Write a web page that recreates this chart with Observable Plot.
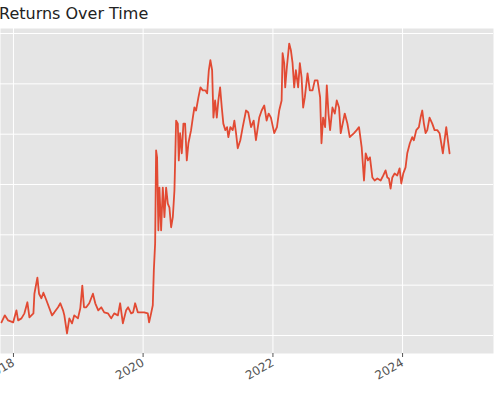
<!DOCTYPE html>
<html>
<head>
<meta charset="utf-8">
<script src="https://cdn.jsdelivr.net/npm/d3@7"></script>
<script src="https://cdn.jsdelivr.net/npm/@observablehq/plot@0.6"></script>
<style>
  html, body { margin: 0; padding: 0; background: white; }
  #wrap { width: 500px; height: 399px; position: relative; overflow: hidden; }
  #title { position: absolute; left: -1px; top: 3px; font-family: "DejaVu Sans", sans-serif; font-size: 16px; color: #222; white-space: nowrap; line-height: 22px; }
  #chart { position: absolute; left: 0; top: 28px; }
</style>
</head>
<body>
<div id="wrap">
  <div id="title">Returns Over Time</div>
  <div id="chart"></div>
</div>
<script>
// decimal years of the traced points
const years = [
  2017.815, 2017.866, 2017.918, 2017.995, 2018.046, 2018.072, 2018.123, 2018.169, 2018.215, 2018.246,
  2018.308, 2018.323, 2018.369, 2018.395, 2018.431, 2018.462, 2018.508, 2018.554, 2018.595, 2018.631,
  2018.688, 2018.723, 2018.765, 2018.785, 2018.826, 2018.862, 2018.903, 2018.938, 2018.995, 2019.031,
  2019.062, 2019.088, 2019.123, 2019.169, 2019.226, 2019.262, 2019.308, 2019.354, 2019.400, 2019.457,
  2019.508, 2019.554, 2019.611, 2019.646, 2019.688, 2019.738, 2019.769, 2019.815, 2019.846, 2019.877,
  2019.918, 2019.969, 2020.015, 2020.072, 2020.092, 2020.123, 2020.149, 2020.165, 2020.185, 2020.200,
  2020.215, 2020.235, 2020.251, 2020.277, 2020.303, 2020.328, 2020.354, 2020.380, 2020.405, 2020.431,
  2020.457, 2020.482, 2020.508, 2020.534, 2020.549, 2020.569, 2020.595, 2020.620, 2020.646, 2020.672,
  2020.697, 2020.738, 2020.765, 2020.789, 2020.815, 2020.851, 2020.882, 2020.918, 2020.958, 2020.985,
  2021.011, 2021.035, 2021.062, 2021.082, 2021.108, 2021.134, 2021.158, 2021.185, 2021.211, 2021.235,
  2021.266, 2021.292, 2021.312, 2021.343, 2021.380, 2021.405, 2021.431, 2021.457, 2021.497, 2021.534,
  2021.585, 2021.620, 2021.662, 2021.703, 2021.738, 2021.789, 2021.826, 2021.866, 2021.903, 2021.934,
  2021.969, 2022.020, 2022.062, 2022.097, 2022.134, 2022.149, 2022.174, 2022.189, 2022.215, 2022.251,
  2022.277, 2022.303, 2022.328, 2022.354, 2022.389, 2022.415, 2022.442, 2022.466, 2022.492, 2022.534,
  2022.569, 2022.611, 2022.646, 2022.688, 2022.728, 2022.749, 2022.774, 2022.805, 2022.831, 2022.857,
  2022.882, 2022.918, 2022.954, 2022.985, 2023.020, 2023.046, 2023.108, 2023.149, 2023.185, 2023.251,
  2023.292, 2023.328, 2023.369, 2023.405, 2023.431, 2023.466, 2023.497, 2023.534, 2023.569, 2023.611,
  2023.662, 2023.703, 2023.738, 2023.765, 2023.789, 2023.815, 2023.842, 2023.877, 2023.918, 2023.954,
  2023.980, 2024.011, 2024.046, 2024.072, 2024.112, 2024.149, 2024.174, 2024.211, 2024.251, 2024.277,
  2024.303, 2024.328, 2024.354, 2024.380, 2024.415, 2024.457, 2024.492, 2024.534, 2024.569, 2024.595,
  2024.620, 2024.646, 2024.672, 2024.697, 2024.723
];
// cumulative return values
const values = [
  1.26, 1.40, 1.30, 1.26, 1.50, 1.30, 1.34, 1.44, 1.66, 1.36,
  1.44, 1.83, 2.15, 1.83, 1.74, 1.85, 1.70, 1.54, 1.40, 1.46,
  1.56, 1.64, 1.50, 1.40, 1.04, 1.34, 1.24, 1.40, 1.34, 1.54,
  1.99, 1.56, 1.56, 1.64, 1.83, 1.64, 1.50, 1.56, 1.46, 1.44,
  1.34, 1.44, 1.40, 1.64, 1.24, 1.50, 1.56, 1.44, 1.46, 1.64,
  1.46, 1.46, 1.46, 1.44, 1.26, 1.44, 1.60, 2.29, 2.83, 4.68,
  4.54, 3.09, 3.94, 3.09, 3.94, 3.35, 3.94, 3.62, 3.54, 3.15,
  3.35, 3.88, 5.27, 5.21, 4.48, 5.02, 4.62, 5.21, 5.21, 4.48,
  4.82, 5.08, 5.33, 5.53, 5.47, 5.73, 5.93, 5.87, 5.87, 5.81,
  6.27, 6.47, 6.27, 5.33, 5.67, 5.33, 5.67, 5.93, 5.53, 5.21,
  5.08, 5.14, 4.94, 5.14, 5.08, 5.27, 5.02, 4.72, 4.88, 5.14,
  5.47, 5.43, 5.14, 5.27, 4.88, 5.33, 5.47, 5.57, 5.27, 5.41,
  5.33, 5.02, 5.14, 5.47, 5.67, 6.61, 6.41, 5.93, 6.33, 6.80,
  6.67, 6.41, 5.93, 6.27, 5.93, 6.41, 6.13, 5.53, 5.73, 6.21,
  5.87, 5.87, 6.07, 6.07, 5.73, 4.82, 5.33, 5.14, 5.97, 5.41,
  5.08, 5.53, 5.41, 5.67, 5.53, 5.02, 5.41, 5.21, 4.94, 5.02,
  5.08, 5.14, 4.74, 4.08, 4.62, 4.48, 4.54, 4.14, 4.08, 4.12,
  4.08, 4.18, 4.28, 4.14, 4.12, 3.92, 4.14, 4.22, 4.18, 4.32,
  4.02, 4.22, 4.34, 4.62, 4.82, 4.94, 4.88, 5.08, 5.14, 5.33,
  5.47, 5.21, 5.02, 5.08, 5.33, 5.21, 5.08, 5.08, 5.02, 4.82,
  4.62, 4.88, 5.14, 4.88, 4.62
];
const tickYears = [2018, 2020, 2022, 2024];
const gridValues = [1, 2, 3, 4, 5, 6, 7];

const toDate = (y) => {
  const yr = Math.floor(y);
  const s = Date.UTC(yr, 0, 1), e = Date.UTC(yr + 1, 0, 1);
  return new Date(s + (y - yr) * (e - s));
};
const data = years.map((y, i) => ({date: toDate(y), value: values[i]}));
const xTicks = tickYears.map(y => new Date(Date.UTC(y, 0, 1)));

const chart = Plot.plot({
  width: 500,
  height: 371,
  marginTop: 0,
  marginLeft: 0,
  marginRight: 7,
  marginBottom: 46,
  style: {fontFamily: "DejaVu Sans, sans-serif", fontSize: "12px", color: "#555", background: "white", overflow: "visible"},
  x: {type: "utc", domain: [toDate(2017.80), toDate(2025.40)]},
  y: {domain: [0.642, 7.10], axis: null},
  marks: [
    Plot.frame({fill: "#e5e5e5", stroke: "none"}),
    Plot.gridX(xTicks, {stroke: "white", strokeOpacity: 1, strokeWidth: 1}),
    Plot.gridY(gridValues, {stroke: "white", strokeOpacity: 1, strokeWidth: 1}),
    Plot.line(data, {x: "date", y: "value", stroke: "#E24A33", strokeWidth: 1.8}),
    Plot.axisX(xTicks, {
      tickFormat: d => String(d.getUTCFullYear()),
      tickRotate: -30,
      tickSize: 4,
      tickPadding: 4,
      stroke: "#555",
      fill: "#555",
      label: null
    })
  ]
});
document.getElementById("chart").appendChild(chart);
</script>
</body>
</html>
